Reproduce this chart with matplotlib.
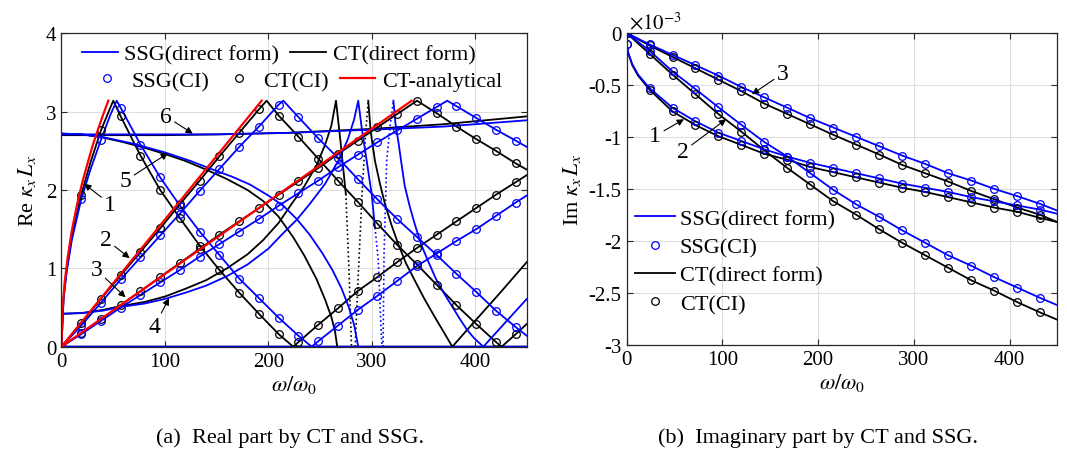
import numpy as np
import matplotlib
matplotlib.use('Agg')
import matplotlib.pyplot as plt
from matplotlib.lines import Line2D

plt.rcParams['font.family'] = ['Liberation Serif', 'DejaVu Serif']
plt.rcParams['mathtext.fontset'] = 'stix'
plt.rcParams['axes.unicode_minus'] = False

BLUE = '#0000ff'
BLACK = '#000000'
RED = '#ff0000'

# ---------------- (a) real part ----------------
# CI sample frequencies (circles)
grid_re = [0, 19.1, 38.2, 57.3, 76.4, 95.5, 114.6, 133.7, 152.8, 171.9, 191, 210.1,
           229.2, 248.3, 267.4, 286.5, 305.6, 324.7, 343.8, 362.9, 382, 401.1, 420.2, 439.3]

# mode 1
w1_ct = [0, 2, 5, 10, 19.1, 28, 38.2, 45, 50.1, 57.3, 76.4, 95.5, 114.6, 133.7, 152.8, 171.9,
         191, 210.1, 224.2, 229.2, 248.3, 267.4, 286.5, 305.6, 324.7, 343.8, 362.9, 382,
         401.1, 420.2, 439.3, 450]
y1_ct = [0, 0.62, 0.98, 1.40, 1.94, 2.35, 2.76, 2.98, 3.14, 2.94, 2.44, 2.00, 1.64, 1.29,
         0.98, 0.69, 0.42, 0.16, 0, 0.06, 0.28, 0.49, 0.71, 0.89, 1.08, 1.26, 1.43, 1.60,
         1.77, 1.94, 2.10, 2.19]
w1_ssg = [0, 2, 5, 10, 19.1, 28, 38.2, 47, 53.4, 57.3, 76.4, 95.5, 114.6, 133.7, 152.8, 171.9,
          191, 210.1, 229.2, 242, 248.3, 267.4, 286.5, 305.6, 324.7, 343.8, 362.9, 382,
          401.1, 420.2, 439.3, 450]
y1_ssg = [0, 0.60, 0.95, 1.36, 1.88, 2.26, 2.64, 2.95, 3.14, 3.05, 2.58, 2.16, 1.80, 1.47,
          1.17, 0.87, 0.62, 0.37, 0.14, 0, 0.07, 0.27, 0.47, 0.65, 0.84, 1.03, 1.19, 1.35,
          1.50, 1.67, 1.84, 1.93]

# mode 2
w2_ct = [0, 19.1, 38.2, 57.3, 76.4, 95.5, 114.6, 133.7, 152.8, 171.9, 191, 198.4, 210.1,
         229.2, 248.3, 267.4, 286.5, 305.6, 324.7, 343.8, 362.9, 382, 401.1, 420.2, 425.7,
         439.3, 450]
y2_ct = [0, 0.30, 0.61, 0.91, 1.21, 1.51, 1.82, 2.12, 2.43, 2.73, 3.03, 3.14, 2.95, 2.68,
         2.40, 2.12, 1.85, 1.57, 1.30, 1.05, 0.79, 0.53, 0.29, 0.06, 0, 0.16, 0.29]
w2_ssg = [0, 19.1, 38.2, 57.3, 76.4, 95.5, 114.6, 133.7, 152.8, 171.9, 191, 210.1, 214.5,
          229.2, 248.3, 267.4, 286.5, 305.6, 324.7, 343.8, 362.9, 382, 401.1, 420.2, 439.3, 450]
y2_ssg = [0, 0.27, 0.56, 0.86, 1.14, 1.42, 1.70, 1.99, 2.27, 2.55, 2.81, 3.09, 3.14, 2.93,
          2.66, 2.41, 2.14, 1.88, 1.63, 1.40, 1.17, 0.93, 0.70, 0.46, 0.25, 0.14]

# mode 3
w3_ct = [0, 19.1, 38.2, 57.3, 76.4, 95.5, 114.6, 133.7, 152.8, 171.9, 191, 210.1, 229.2,
         248.3, 267.4, 286.5, 305.6, 324.7, 343.8, 362.9, 382, 401.1, 420.2, 439.3, 450]
y3_ct = [0, 0.17, 0.35, 0.53, 0.71, 0.89, 1.07, 1.25, 1.43, 1.60, 1.77, 1.94, 2.11, 2.28,
         2.46, 2.63, 2.80, 2.97, 3.14, 2.98, 2.81, 2.65, 2.50, 2.34, 2.26]
w3_ssg = [0, 19.1, 38.2, 57.3, 76.4, 95.5, 114.6, 133.7, 152.8, 171.9, 191, 210.1, 229.2,
          248.3, 267.4, 286.5, 305.6, 324.7, 343.8, 362.9, 373.1, 382, 401.1, 420.2, 439.3, 450]
y3_ssg = [0, 0.16, 0.33, 0.50, 0.66, 0.82, 0.98, 1.15, 1.31, 1.47, 1.63, 1.80, 1.96, 2.12,
          2.29, 2.45, 2.61, 2.76, 2.91, 3.06, 3.14, 3.07, 2.92, 2.77, 2.63, 2.55]

# mode 4 (rises from 0.42 up to a spike at pi, then drops steeply)
w4_ct = [0, 20, 40, 58, 80, 100, 120, 140, 160, 180, 195, 210, 224, 235, 246.8, 255, 261,
         265.5, 270, 275, 278, 280.5]
y4_ct = [0.42, 0.43, 0.47, 0.52, 0.57, 0.64, 0.74, 0.85, 1.00, 1.18, 1.36, 1.58, 1.85, 2.05,
         2.32, 2.58, 2.82, 3.14, 2.60, 1.95, 1.00, 0]
w4_ssg = [0, 20, 40, 58, 80, 100, 120, 140, 160, 180, 200, 214.5, 227.5, 240, 255, 268, 277,
          283, 287, 290.3, 295.2, 300, 303.2, 306.4, 309, 310]
y4_ssg = [0.42, 0.43, 0.46, 0.51, 0.55, 0.61, 0.69, 0.78, 0.90, 1.05, 1.25, 1.45, 1.62, 1.82,
          2.08, 2.38, 2.65, 2.90, 3.14, 2.80, 2.37, 1.95, 1.52, 1.10, 0.25, 0]

# mode 5 (falls from 2.72 to 0)
w5_ct = [0, 20, 40, 60, 80, 100, 120, 140, 160, 180, 195, 210, 224, 235, 246.8, 255, 261,
         264.5, 266.7]
y5_ct = [2.72, 2.71, 2.67, 2.61, 2.54, 2.46, 2.37, 2.26, 2.14, 2.00, 1.86, 1.66, 1.40, 1.16,
         0.86, 0.60, 0.38, 0.20, 0]
w5_ssg = [0, 20, 42, 70, 100, 125, 148.5, 165, 182.3, 200, 214.5, 227.5, 240, 252, 262, 271,
          278, 283, 287]
y5_ssg = [2.72, 2.71, 2.67, 2.59, 2.48, 2.37, 2.25, 2.17, 2.07, 1.93, 1.80, 1.63, 1.43, 1.20,
          0.98, 0.74, 0.50, 0.28, 0]

# mode 6 (almost flat)
w6 = [0, 100, 150, 220, 300, 370, 450]
y6_ct = [2.70, 2.70, 2.71, 2.73, 2.78, 2.84, 2.94]
y6_ssg = [2.71, 2.71, 2.71, 2.73, 2.77, 2.81, 2.89]

# steep branches after the spikes
wd_ct = [284, 287, 290.5, 294, 296.7]
yd_ct = [0, 0.9, 1.9, 2.7, 3.14]
wd_ssg = [311, 312, 314.5, 317.7, 321]
yd_ssg = [0, 1.2, 2.37, 2.8, 3.14]
we_ct = [296.7, 299, 303.2, 308, 312.9, 319, 325.7, 333, 341.9, 351, 361.2, 370, 378, 400,
         425, 450]
ye_ct = [3.14, 2.75, 2.37, 2.08, 1.82, 1.56, 1.31, 1.07, 0.84, 0.61, 0.375, 0.18, 0, 0.33,
         0.70, 1.08]
we_ssg = [321, 323, 326, 329, 332, 337, 342, 348, 355, 362, 370, 378, 385, 392, 399, 408,
          430, 450]
ye_ssg = [3.14, 2.85, 2.60, 2.32, 2.05, 1.78, 1.55, 1.30, 1.08, 0.87, 0.68, 0.51, 0.36, 0.22,
          0.11, 0, 0.32, 0.61]

# analytical CT
wa1 = [0, 1, 3, 6, 10, 15, 20, 25, 30, 35, 40, 45.3]
ya1 = [0, 0.47, 0.81, 1.14, 1.48, 1.81, 2.09, 2.33, 2.56, 2.76, 2.95, 3.14]
wa2 = [0, 193.6]
ya2 = [0, 3.14]
wa3 = [0, 338.7]
ya3 = [0, 3.14]

# ---------------- (b) imaginary part (x1e-3) ----------------
grid_im = [0, 24, 48, 72, 96, 120, 144, 168, 192, 216, 240, 264, 288, 312, 336, 360, 384, 408, 432]

wi_up = grid_im + [450]
im3_ssg = [0, -0.11, -0.21, -0.31, -0.41, -0.52, -0.62, -0.72, -0.82, -0.91, -1.00, -1.09,
           -1.18, -1.26, -1.35, -1.42, -1.50, -1.57, -1.645, -1.71]
im3_ct = [0, -0.12, -0.23, -0.34, -0.45, -0.56, -0.68, -0.78, -0.88, -0.98, -1.075, -1.17,
          -1.27, -1.35, -1.43, -1.52, -1.60, -1.68, -1.75, -1.82]
im2_ssg = [0, -0.17, -0.37, -0.54, -0.715, -0.885, -1.05, -1.19, -1.35, -1.51, -1.65, -1.77,
           -1.90, -2.02, -2.14, -2.24, -2.35, -2.45, -2.55, -2.62]
im2_ct = [0, -0.20, -0.40, -0.59, -0.78, -0.95, -1.13, -1.30, -1.46, -1.62, -1.75, -1.89,
          -2.02, -2.14, -2.26, -2.38, -2.48, -2.59, -2.69, -2.76]
wi_mid = [0, 2, 6, 12] + grid_im[1:] + [450]
im1_ssg = [-0.11, -0.20, -0.30, -0.40, -0.53, -0.72, -0.85, -0.96, -1.04, -1.12, -1.19, -1.25,
           -1.30, -1.35, -1.40, -1.45, -1.49, -1.53, -1.58, -1.62, -1.66, -1.70, -1.74]
im1_ct = [-0.11, -0.20, -0.31, -0.41, -0.545, -0.755, -0.886, -0.994, -1.077, -1.163, -1.22,
          -1.29, -1.34, -1.39, -1.44, -1.49, -1.53, -1.58, -1.63, -1.68, -1.72, -1.78, -1.82]


def ci_points(w, y, grid):
    w = np.array(w)
    y = np.array(y)
    keep = np.isin(w, grid)
    return w[keep], y[keep]


def style_axes(ax):
    ax.grid(True, color='#dedede', lw=0.8)
    ax.set_axisbelow(True)
    ax.tick_params(direction='in', top=True, right=True, labelsize=15, length=4,
                   color='#262626', width=0.8)
    for s in ax.spines.values():
        s.set_color('#262626')
        s.set_linewidth(0.9)


fig = plt.figure(figsize=(10.67, 4.6), dpi=100)

# ---- left panel ----
ax = fig.add_axes([0.0576, 0.2441, 0.4361, 0.6813])
style_axes(ax)
lw = 1.3

ax.plot([0, 450], [0, 0], color=BLACK, lw=2.5)
ax.plot([0, 450], [0, 0], color=BLUE, lw=2.5)

for w, y in [(w1_ct, y1_ct), (w2_ct, y2_ct), (w3_ct, y3_ct), (w5_ct, y5_ct), (w6, y6_ct),
             (we_ct, ye_ct)]:
    ax.plot(w, y, color=BLACK, lw=lw)
ax.plot(w4_ct[:-2], y4_ct[:-2], color=BLACK, lw=lw)
ax.plot(w4_ct[-3:], y4_ct[-3:], color=BLACK, lw=1.2, ls=':')
ax.plot(wd_ct, yd_ct, color=BLACK, lw=1.2, ls=':')

for w, y in [(w1_ssg, y1_ssg), (w2_ssg, y2_ssg), (w3_ssg, y3_ssg), (w5_ssg, y5_ssg),
             (w6, y6_ssg), (we_ssg, ye_ssg)]:
    ax.plot(w, y, color=BLUE, lw=lw)
ax.plot(w4_ssg[:-3], y4_ssg[:-3], color=BLUE, lw=lw)
ax.plot(w4_ssg[-4:], y4_ssg[-4:], color=BLUE, lw=1.2, ls=':')
ax.plot(wd_ssg, yd_ssg, color=BLUE, lw=1.2, ls=':')

for w, y in [(w1_ct, y1_ct), (w2_ct, y2_ct), (w3_ct, y3_ct)]:
    cw, cy = ci_points(w, y, grid_re)
    ax.plot(cw, cy, 'o', mfc='none', mec=BLACK, ms=5.5, mew=0.9)
for w, y in [(w1_ssg, y1_ssg), (w2_ssg, y2_ssg), (w3_ssg, y3_ssg)]:
    cw, cy = ci_points(w, y, grid_re)
    ax.plot(cw, cy, 'o', mfc='none', mec=BLUE, ms=5.5, mew=0.9)

for w, y in [(wa1, ya1), (wa2, ya2), (wa3, ya3)]:
    ax.plot(w, y, color=RED, lw=1.6)

ax.set_xlim(0, 450)
ax.set_ylim(0, 4)
ax.set_xticks([0, 100, 200, 300, 400])
ax.set_yticks([0, 1, 2, 3, 4])
ax.set_xlabel(r'$\omega/\omega_0$', fontsize=16, labelpad=2)
ax.set_ylabel(r'Re $\kappa_x\,L_x$', fontsize=16, labelpad=6)

arr = dict(arrowstyle='-|>', color='k', lw=0.8, mutation_scale=10, shrinkA=0, shrinkB=0)
labels_re = [('1', (22, 2.08), (47, 1.82)),
             ('2', (66, 1.13), (43, 1.37)),
             ('3', (62, 0.63), (34, 0.98)),
             ('4', (104, 0.62), (90, 0.26)),
             ('5', (103, 2.47), (62, 2.12)),
             ('6', (127, 2.72), (101, 2.94))]
for txt, head, pos in labels_re:
    ax.annotate(txt, xy=head, xytext=pos, fontsize=17, ha='center', va='center',
                arrowprops=arr)

h_ssg = Line2D([], [], color=BLUE, lw=1.3)
h_ct = Line2D([], [], color=BLACK, lw=1.3)
h_ssg_ci = Line2D([], [], ls='none', marker='o', mfc='none', mec=BLUE, ms=5.5, mew=0.9)
h_ct_ci = Line2D([], [], ls='none', marker='o', mfc='none', mec=BLACK, ms=5.5, mew=0.9)
h_an = Line2D([], [], color=RED, lw=1.6)

leg1 = ax.legend([h_ssg, h_ct], ['SSG(direct form)', 'CT(direct form)'], ncol=2,
                 loc='center', bbox_to_anchor=(0.467, 0.934), frameon=False, fontsize=16,
                 handlelength=1.6, columnspacing=0.5, handletextpad=0.3, borderpad=0)
ax.add_artist(leg1)
ax.legend([h_ssg_ci, h_ct_ci, h_an], ['SSG(CI)', 'CT(CI)', 'CT-analytical'], ncol=3,
          loc='center', bbox_to_anchor=(0.504, 0.848), frameon=False, fontsize=16,
          handlelength=1.6, columnspacing=0.5, handletextpad=0.3, borderpad=0)

# ---- right panel ----
bx = fig.add_axes([0.5872, 0.2485, 0.4038, 0.6776])
style_axes(bx)

series_im = [(wi_mid, im1_ct, BLACK), (wi_up, im2_ct, BLACK), (wi_up, im3_ct, BLACK),
             (wi_mid, im1_ssg, BLUE), (wi_up, im2_ssg, BLUE), (wi_up, im3_ssg, BLUE)]
for w, y, c in series_im:
    bx.plot(w, y, color=c, lw=lw)
for w, y, c in series_im:
    cw, cy = ci_points(w, y, grid_im)
    bx.plot(cw, cy, 'o', mfc='none', mec=c, ms=5.5, mew=0.9)

bx.set_xlim(0, 450)
bx.set_ylim(-3, 0)
bx.set_xticks([0, 100, 200, 300, 400])
bx.set_yticks([0, -0.5, -1, -1.5, -2, -2.5, -3])
bx.set_yticklabels(['0', '-0.5', '-1', '-1.5', '-2', '-2.5', '-3'])
bx.set_xlabel(r'$\omega/\omega_0$', fontsize=16, labelpad=2)
bx.set_ylabel(r'Im $\kappa_x\,L_x$', fontsize=16, labelpad=4)
bx.text(0.005, 1.0, r'$\times 10^{-3}$', transform=bx.transAxes, fontsize=15,
        ha='left', va='bottom')

labels_im = [('1', (60, -0.83), (30, -0.99)),
             ('2', (104, -0.83), (59, -1.14)),
             ('3', (131, -0.59), (163, -0.39))]
for txt, head, pos in labels_im:
    bx.annotate(txt, xy=head, xytext=pos, fontsize=17, ha='center', va='center',
                arrowprops=arr)

bx.legend([h_ssg, h_ssg_ci, h_ct, h_ct_ci],
          ['SSG(direct form)', 'SSG(CI)', 'CT(direct form)', 'CT(CI)'],
          loc='center left', bbox_to_anchor=(0.0, 0.267), frameon=False, fontsize=16,
          handlelength=1.8, handletextpad=0.2, labelspacing=0.35, borderpad=0,
          borderaxespad=0.4)

fig.text(290 / 1067, 1 - 438 / 460, '(a)  Real part by CT and SSG.', fontsize=16,
         ha='center', va='center')
fig.text(818 / 1067, 1 - 438 / 460, '(b)  Imaginary part by CT and SSG.', fontsize=16,
         ha='center', va='center')

fig.savefig('out.png', dpi=100)
